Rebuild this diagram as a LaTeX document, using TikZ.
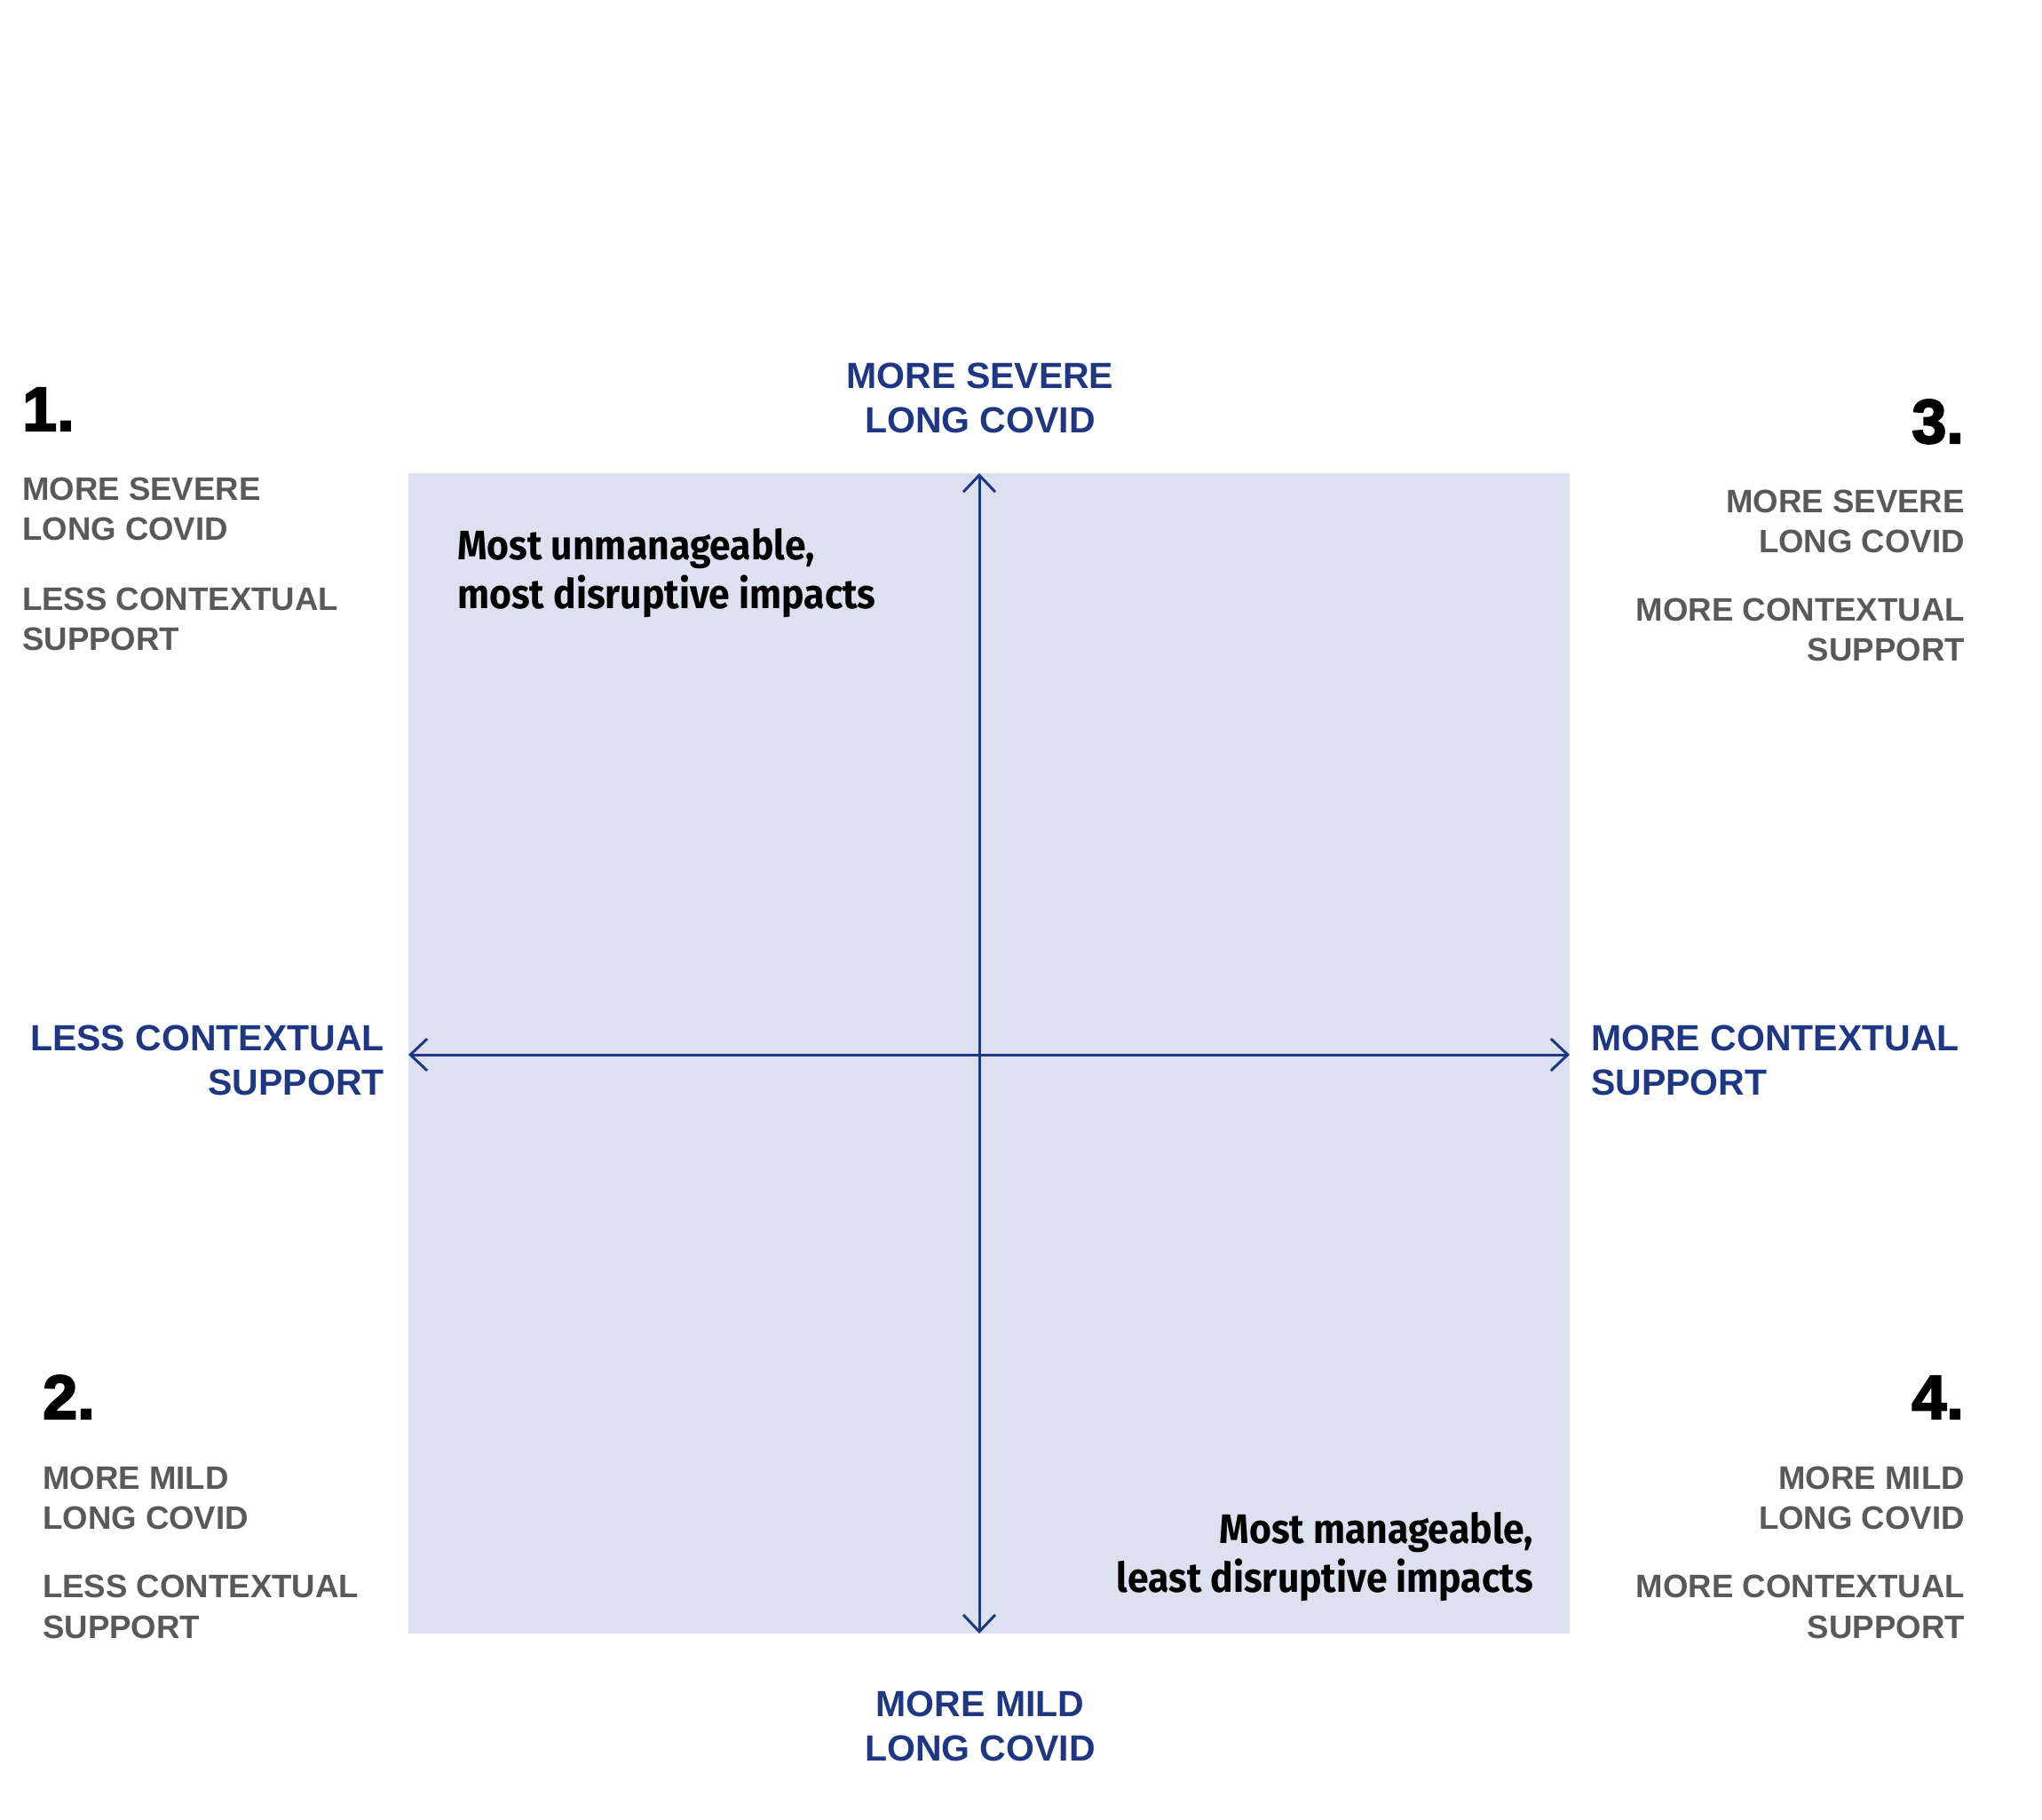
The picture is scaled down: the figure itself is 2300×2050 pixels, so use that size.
\documentclass[tikz,border=0pt]{standalone}
\usepackage{fontspec}
\setmainfont{Liberation Sans}
\newfontfamily\numfont[FakeBold=3]{Liberation Sans}
\newfontfamily\innerfont[FakeStretch=0.92]{Fira Sans}
\usetikzlibrary{arrows.meta}
\definecolor{axisblue}{RGB}{31,55,130}
\definecolor{labelgray}{RGB}{89,89,89}
\definecolor{quadfill}{RGB}{221,224,238}
\tikzset{
  bluelab/.style={text=axisblue, inner sep=0pt, font=\fontsize{41}{48}\selectfont\bfseries},
  graylab/.style={text=labelgray, inner sep=0pt, font=\fontsize{36.6}{44}\selectfont\bfseries},
  numlab/.style={text=black, inner sep=0pt, font=\fontsize{70}{80}\selectfont\numfont\bfseries},
  innerlab/.style={text=black, inner sep=0pt, font=\fontsize{46.4}{55}\selectfont\innerfont\bfseries},
  axisline/.style={draw=axisblue, line width=3pt,
    {Straight Barb[length=19pt,width=36pt]}-{Straight Barb[length=19pt,width=36pt]}}
}
\begin{document}
\begin{tikzpicture}[x=1pt,y=-1pt]
\useasboundingbox[fill=white] (0,0) rectangle (2300,2050);
% quadrant field
\fill[quadfill] (460,533) rectangle (1768,1840);
% axis end points
\coordinate (axtop) at (1103,533);
\coordinate (axbot) at (1103,1840);
\coordinate (axleft) at (460,1188);
\coordinate (axright) at (1768,1188);
\draw[axisline] (axbot) -- (axtop);
\draw[axisline] (axleft) -- (axright);
% axis labels
\node[bluelab, anchor=base] (topA) at (1104,437) {MORE SEVERE};
\node[bluelab, anchor=base] (topB) at (1104,487) {LONG COVID};
\node[bluelab, anchor=base] (botA) at (1104,1933) {MORE MILD};
\node[bluelab, anchor=base] (botB) at (1104,1983) {LONG COVID};
\node[bluelab, anchor=base east] (leftA) at (433,1183) {LESS CONTEXTUAL};
\node[bluelab, anchor=base east] (leftB) at (433,1233) {SUPPORT};
\node[bluelab, anchor=base west] (rightA) at (1792,1183) {MORE CONTEXTUAL};
\node[bluelab, anchor=base west] (rightB) at (1792,1233) {SUPPORT};
% quadrant 1
\node[numlab, anchor=base west] (n1) at (25,485) {1.};
\node[graylab, anchor=base west] (q1a) at (25,563) {MORE SEVERE};
\node[graylab, anchor=base west] (q1b) at (25,608) {LONG COVID};
\node[graylab, anchor=base west] (q1c) at (25,687) {LESS CONTEXTUAL};
\node[graylab, anchor=base west] (q1d) at (25,732) {SUPPORT};
% quadrant 3
\node[numlab, anchor=base east] (n3) at (2212,499) {3.};
\node[graylab, anchor=base east] (q3a) at (2213,577) {MORE SEVERE};
\node[graylab, anchor=base east] (q3b) at (2213,622) {LONG COVID};
\node[graylab, anchor=base east] (q3c) at (2213,699) {MORE CONTEXTUAL};
\node[graylab, anchor=base east] (q3d) at (2213,744) {SUPPORT};
% quadrant 2
\node[numlab, anchor=base west] (n2) at (48,1598) {2.};
\node[graylab, anchor=base west] (q2a) at (48,1677) {MORE MILD};
\node[graylab, anchor=base west] (q2b) at (48,1722) {LONG COVID};
\node[graylab, anchor=base west] (q2c) at (48,1799) {LESS CONTEXTUAL};
\node[graylab, anchor=base west] (q2d) at (48,1845) {SUPPORT};
% quadrant 4
\node[numlab, anchor=base east] (n4) at (2212,1598) {4.};
\node[graylab, anchor=base east] (q4a) at (2213,1677) {MORE MILD};
\node[graylab, anchor=base east] (q4b) at (2213,1722) {LONG COVID};
\node[graylab, anchor=base east] (q4c) at (2213,1799) {MORE CONTEXTUAL};
\node[graylab, anchor=base east] (q4d) at (2213,1845) {SUPPORT};
% inner texts
\node[innerlab, anchor=base west] (inA) at (515,630) {Most unmanageable,};
\node[innerlab, anchor=base west] (inB) at (515,685) {most disruptive impacts};
\node[innerlab, anchor=base east] (inC) at (1727,1738) {Most manageable,};
\node[innerlab, anchor=base east] (inD) at (1727,1793) {least disruptive impacts};
\end{tikzpicture}
\end{document}
